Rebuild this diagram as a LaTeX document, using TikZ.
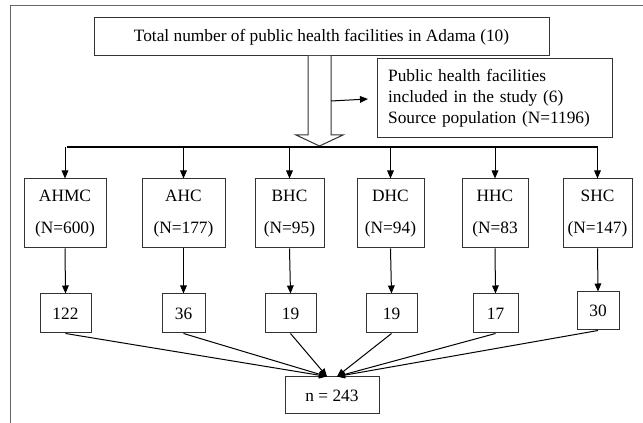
\documentclass[tikz,border=0pt]{standalone}
\usepackage{fontspec}
\setmainfont{Liberation Serif}
\usetikzlibrary{arrows.meta}

\begin{document}
\begin{tikzpicture}[
      x=0.75pt, y=-0.75pt,
      font=\fontsize{13}{15.5}\selectfont,
      line width=0.75pt,
      >={Triangle[length=6pt, width=5pt]},
      box/.style={draw=black!80, fill=white, inner sep=0pt, align=center},
      site/.style={box, minimum height=51.75pt},
      sample/.style={box, minimum height=29.25pt},
      frame/.style={draw=black!60}
    ]
      \useasboundingbox (0,0) rectangle (643,423);

      % Frame round the figure (top and left edge only)
      \draw[frame] (10,423) -- (10,6) -- (643,6);

      % Top box
      \node[box, minimum width=341.25pt, minimum height=28.5pt]
        (total)
        at
        (321.5,37)
        {Total number of public health facilities in Adama (10)};

      % Hollow arrow down to the bar
      \draw[draw=black!80, fill=white]
        (308,56) -- (308,135) -- (296,135) -- (319.5,146)
        -- (343,135) -- (331,135) -- (331,56);
      \coordinate (side) at (331,101);
      \coordinate (bus) at (0,147);

      % Box on the right
      \node[box, anchor=west, align=left, inner xsep=8pt, text width=160.25pt,
            minimum height=59.25pt, font=\fontsize{13}{15.75}\selectfont]
        (study)
        at
        (377,98.5)
        {Public health facilities \\ included in the study (6) \\ Source population (N=1196)};

      \draw[->, shorten >=6.75pt] (side) -- (study.west);

      % First row: facilities
      \node[site, minimum width=61.5pt] (ahmc) at (65,213.5) {AHMC \\[8.5pt] (N=600)};
      \node[site, minimum width=62.25pt] (ahc) at (183.5,213.5) {AHC \\[8.5pt] (N=177)};
      \node[site, minimum width=51.75pt] (bhc) at (289.5,213.5) {BHC \\[8.5pt] (N=95)};
      \node[site, minimum width=50.25pt] (dhc) at (390.5,213.5) {DHC \\[8.5pt] (N=94)};
      \node[site, minimum width=49.5pt] (hhc) at (495,213.5) {HHC \\[8.5pt] (N=83};
      \node[site, minimum width=51.75pt] (shc) at (597.5,213.5) {SHC \\[8.5pt] (N=147)};

      % Thick bar and the drops to each facility
      \draw[line width=1.5pt] ([xshift=1.5pt]ahmc.north |- bus) -- (shc.north |- bus);
      \foreach \f in {ahmc, ahc, bhc, dhc, hhc, shc}
        \draw[->] (\f.north |- bus) -- (\f.north);

      % Second row: sample sizes
      \node[sample, minimum width=38.25pt] (s122) at (65.5,313.5) {122};
      \node[sample, minimum width=32.25pt] (s36) at (183.5,313.5) {36};
      \node[sample, minimum width=38.25pt] (s19a) at (290.5,313.5) {19};
      \node[sample, minimum width=38.25pt] (s19b) at (391.5,313.5) {19};
      \node[sample, minimum width=33.75pt] (s17) at (495.5,313.5) {17};
      \node[sample, minimum width=31.5pt, minimum height=28.5pt] (s30) at (598,311) {30};

      \foreach \f/\s in {ahmc/s122, ahc/s36, bhc/s19a, dhc/s19b, hhc/s17, shc/s30}
        \draw[->] (\f.south) -- (\s.north);

      % Total sample
      \node[box, minimum width=70.5pt, minimum height=27.75pt]
        (sum)
        at
        (332,395.5)
        {n = 243};

      \foreach \s in {s122, s36, s19a}
        \draw[->] (\s.south) -- ([xshift=-3.75pt]sum.north);
      \foreach \s in {s19b, s17, s30}
        \draw[->] (\s.south) -- ([xshift=3.75pt]sum.north);
    \end{tikzpicture}
\end{document}
